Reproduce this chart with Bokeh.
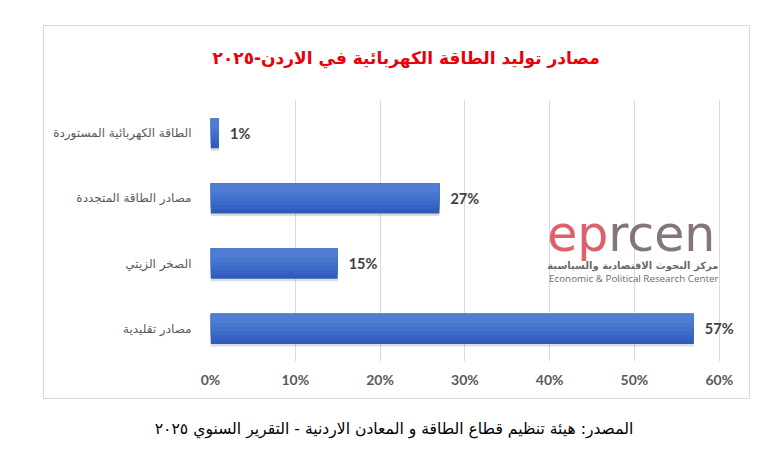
from bokeh.plotting import figure
from bokeh.models import Label, ColumnDataSource, FactorRange, Div, Title
from bokeh.layouts import column
from bokeh.core.properties import value
from bokeh.transform import dodge
from bokeh.embed import file_html
from bokeh.resources import INLINE

title_text = "مصادر توليد الطاقة الكهربائية في الاردن-٢٠٢٥"
footer_text = "المصدر: هيئة تنظيم قطاع الطاقة و المعادن الاردنية -  التقرير السنوي ٢٠٢٥"
categories = ["الطاقة الكهربائية المستوردة", "مصادر الطاقة المتجددة", "الصخر الزيتي", "مصادر تقليدية"]
values = [1, 27, 15, 57]
labels = ["1%", "27%", "15%", "57%"]
x_ticks = [0, 10, 20, 30, 40, 50, 60]

AR = "DejaVu Sans"

src = ColumnDataSource(dict(cat=categories, val=values, lab=labels))

p = figure(width=707, height=374, output_backend="svg", toolbar_location=None,
           y_range=FactorRange(*reversed(categories), range_padding=0), x_range=(0, 63.8),
           min_border_left=166, min_border_right=0, min_border_top=74, min_border_bottom=39)
p.outline_line_color = None
p.background_fill_color = "white"
p.border_fill_color = "white"
p.margin = (25, 0, 0, 43)
p.styles = {"border": "1px solid #d9d9d9"}

# spacer between frame and title
p.add_layout(Title(text=" ", text_font_size="2px", standoff=10), "above")

p.title.text = title_text
p.title.text_font = AR
p.title.text_font_style = "bold"
p.title.text_font_size = "17px"
p.title.text_color = "#e8000b"
p.title.align = "left"
p.title.offset = 2
p.title.standoff = 38

# grid
p.ygrid.grid_line_color = None
p.xgrid.grid_line_color = "#d9d9d9"
p.xgrid.ticker = x_ticks

# x axis
p.xaxis.ticker = x_ticks
p.xaxis.major_label_overrides = {t: f"{t}%" for t in x_ticks}
p.xaxis.axis_line_color = None
p.xaxis.major_tick_line_color = None
p.xaxis.minor_tick_line_color = None
p.xaxis.major_label_text_font = "Lato"
p.xaxis.major_label_text_font_style = "bold"
p.xaxis.major_label_text_font_size = "14px"
p.xaxis.major_label_text_color = "#595959"
p.xaxis.major_label_standoff = 3

# y axis
p.yaxis.axis_line_color = None
p.yaxis.major_tick_line_color = None
p.yaxis.minor_tick_line_color = None
p.yaxis.major_label_text_font = AR
p.yaxis.major_label_text_font_size = "12px"
p.yaxis.major_label_text_color = "#595959"
p.yaxis.major_label_standoff = 13

# bars: soft shadow, then gradient-like layers
p.hbar(y=dodge("cat", -0.04, range=p.y_range), right="val", left=0, height=0.46, source=src,
       fill_color="#8c8c8c", fill_alpha=0.3, line_color=None)
shades = ["#2f5bbd", "#3663c3", "#3c6ac8", "#4271cc", "#4877cf", "#4e7dd2"]
for i, c in enumerate(shades):
    h = 0.46 - i * 0.065
    p.hbar(y=dodge("cat", (0.46 - h) / 2, range=p.y_range), right="val", left=0, height=h,
           source=src, fill_color=c, line_color=None)

p.text(x="val", y="cat", text="lab", source=src, x_offset=11,
       text_font=value("Lato"), text_font_style="bold", text_font_size="14.5px",
       text_color="#404040", text_baseline="middle", text_align="left")

# watermark logo
p.add_layout(Label(x=39.7, y=1.95, text="ep",
                   text_font=AR, text_font_size="49px", text_color="#d8454f",
                   text_alpha=0.85, text_align="left", text_baseline="middle"))
p.add_layout(Label(x=46.9, y=1.95, text="rcen",
                   text_font=AR, text_font_size="49px", text_color="#6f5e5e",
                   text_alpha=0.85, text_align="left", text_baseline="middle"))
p.add_layout(Label(x=59.9, y=1.47, text="مركز البحوث الاقتصادية والسياسية",
                   text_font=AR, text_font_style="bold", text_font_size="10px", text_color="#6a6a6a",
                   text_align="right", text_baseline="middle"))
p.add_layout(Label(x=59.9, y=1.27, text="Economic & Political Research Center",
                   text_font="Open Sans", text_font_size="9.8px", text_color="#6a6a6a",
                   text_align="right", text_baseline="middle"))

footer = Div(text=footer_text, width=700, margin=(20, 0, 0, 44),
             styles={"text-align": "center", "font-family": AR, "font-size": "15.6px",
                     "color": "#000000", "direction": "rtl", "line-height": "20px"})

layout = column(p, footer)
open("out.html", "w").write(file_html(layout, INLINE))
